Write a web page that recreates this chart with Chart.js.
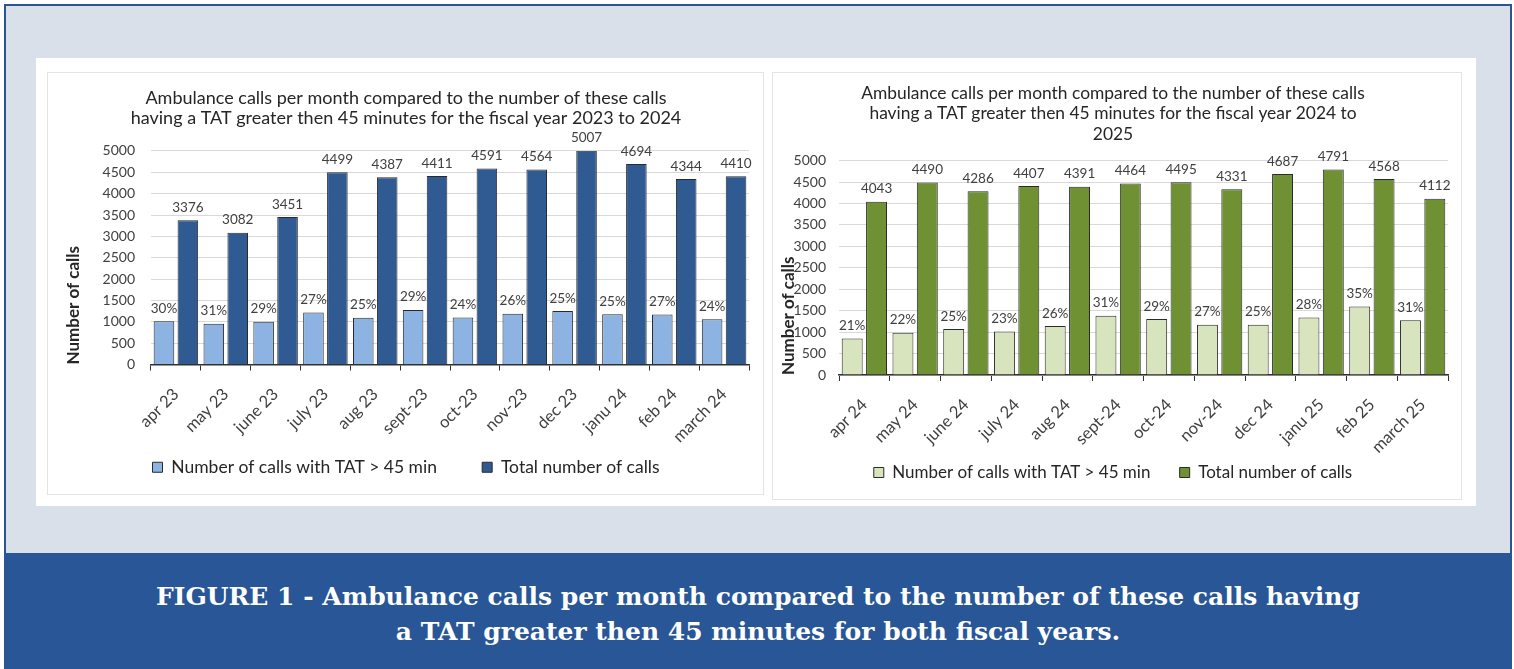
<!DOCTYPE html>
<html>
<head>
<meta charset="utf-8">
<title>Ambulance calls per month</title>
<script src="https://cdn.jsdelivr.net/npm/chart.js@4.4.1/dist/chart.umd.min.js"></script>
<style>
    body { margin: 0; background: #fff; }
    #page { position: relative; width: 1514px; height: 669px; overflow: hidden; background: #fff; }
    #frame { position: absolute; left: 4px; top: 4px; width: 1508px; height: 680px; border: 2px solid #2b5591; box-sizing: border-box; background: #dae0ea; }
    #panel { position: absolute; left: 36px; top: 58px; width: 1440px; height: 448px; background: #fff; }
    .box { position: absolute; border: 1px solid #e4e4e4; box-sizing: border-box; background: #fff; }
    .box canvas { position: absolute; left: 0; top: 0; }
    #band { position: absolute; left: 4px; top: 553px; width: 1508px; height: 116px; background: #285696; }
    #caption { margin: 0; padding-top: 26px; color: #fff; text-align: center; font: bold 25px/35px "DejaVu Serif", serif; }
</style>
</head>
<body>
<div id="page">
    <div id="frame"></div>
    <div id="panel"></div>
    <div class="box" style="left:47px; top:72px; width:717px; height:423px;">
        <canvas id="chart2324" width="717" height="423"></canvas>
    </div>
    <div class="box" style="left:772px; top:72px; width:690px; height:428px;">
        <canvas id="chart2425" width="690" height="428"></canvas>
    </div>
    <div id="band">
        <p id="caption">FIGURE 1 - Ambulance calls per month compared to the number of these calls having<br>a TAT greater then 45 minutes for both fiscal years.</p>
    </div>
</div>
<script>
// fiscal year 2023 - 2024
const months2324 = ['apr 23', 'may 23', 'june 23', 'july 23', 'aug 23', 'sept-23', 'oct-23', 'nov-23', 'dec 23', 'janu 24', 'feb 24', 'march 24'];
const total2324 = [3376, 3082, 3451, 4499, 4387, 4411, 4591, 4564, 5007, 4694, 4344, 4410];
const tat2324 = [1013, 955, 1001, 1215, 1097, 1279, 1102, 1187, 1252, 1174, 1173, 1058];
const pct2324 = [30, 31, 29, 27, 25, 29, 24, 26, 25, 25, 27, 24];

// fiscal year 2024 - 2025
const months2425 = ['apr 24', 'may 24', 'june 24', 'july 24', 'aug 24', 'sept-24', 'oct-24', 'nov-24', 'dec 24', 'janu 25', 'feb 25', 'march 25'];
const total2425 = [4043, 4490, 4286, 4407, 4391, 4464, 4495, 4331, 4687, 4791, 4568, 4112];
const tat2425 = [849, 988, 1072, 1014, 1142, 1384, 1304, 1169, 1172, 1341, 1599, 1275];
const pct2425 = [21, 22, 25, 23, 26, 31, 29, 27, 25, 28, 35, 31];

const seriesNames = ['Number of calls with TAT > 45 min', 'Total number of calls'];
const yMax = 5000;
const yStep = 500;

const textColor = '#404040';
const darkText = '#262626';

// value labels above each bar (percent on the small bars, totals on the big ones)
function makeLabels(pct) {
    return {
        id: 'barLabels',
        afterDatasetsDraw(chart) {
            const ctx = chart.ctx;
            ctx.save();
            ctx.font = '13.5px Lato';
            ctx.fillStyle = textColor;
            ctx.textAlign = 'center';
            ctx.textBaseline = 'bottom';
            chart.getDatasetMeta(0).data.forEach((bar, i) => {
                ctx.fillText(pct[i] + '%', bar.x, bar.y - 6);
            });
            const totals = chart.data.datasets[1].data;
            chart.getDatasetMeta(1).data.forEach((bar, i) => {
                ctx.fillText(totals[i], bar.x, bar.y - 6);
            });
            ctx.restore();
        }
    };
}

function drawChart(id, cfg) {
    return new Chart(document.getElementById(id), {
        type: 'bar',
        data: {
            labels: cfg.labels,
            datasets: [{
                label: seriesNames[0],
                data: cfg.tat,
                backgroundColor: cfg.light,
                borderColor: '#2a2a2a',
                borderWidth: 1,
                categoryPercentage: 0.96,
                barPercentage: 0.86
            }, {
                label: seriesNames[1],
                data: cfg.total,
                backgroundColor: cfg.dark,
                borderColor: '#2a2a2a',
                borderWidth: 1,
                categoryPercentage: 0.96,
                barPercentage: 0.86
            }]
        },
        options: {
            responsive: false,
            animation: false,
            layout: { padding: cfg.pad },
            plugins: {
                title: {
                    display: true,
                    text: cfg.title,
                    color: darkText,
                    font: { family: 'Lato', size: cfg.titleSize, weight: 'normal', lineHeight: cfg.titleLine },
                    padding: cfg.titlePad
                },
                legend: {
                    position: 'bottom',
                    labels: {
                        boxWidth: 10,
                        boxHeight: 10,
                        padding: 8,
                        color: darkText,
                        font: { family: 'Lato', size: cfg.legendSize },
                        // wider gap after the first entry, like the original
                        generateLabels: (chart) => {
                            const items = Chart.defaults.plugins.legend.labels.generateLabels(chart);
                            items[0].text += cfg.legendGap;
                            return items;
                        }
                    }
                },
                tooltip: { enabled: false }
            },
            scales: {
                x: {
                    grid: { offset: true, drawOnChartArea: false, drawTicks: true, tickLength: 6, color: '#303030' },
                    border: { display: true, color: '#303030', width: 1.5 },
                    ticks: { minRotation: 45, maxRotation: 45, padding: 14, color: textColor, font: { family: 'Lato', size: 16.5 } },
                    afterFit: (s) => { s.height = cfg.xHeight; }
                },
                y: {
                    min: 0,
                    max: yMax,
                    ticks: { stepSize: yStep, padding: cfg.yPad, color: textColor, font: { family: 'Lato', size: 14 }, callback: (v) => String(v) },
                    grid: { color: '#d9d9d9', drawTicks: false },
                    border: { display: false },
                    title: {
                        display: true,
                        text: 'Number of calls',
                        align: 'start',
                        padding: 0,
                        color: darkText,
                        font: { family: 'Lato', size: 17, weight: 'bold' }
                    },
                    afterFit: (s) => { s.width = cfg.yWidth; }
                }
            }
        },
        plugins: [makeLabels(cfg.pct)]
    });
}

drawChart('chart2324', {
    labels: months2324,
    tat: tat2324,
    total: total2324,
    pct: pct2324,
    light: '#8db3e2',
    dark: '#305b92',
    title: ['Ambulance calls per month compared to the number of these calls',
            'having a TAT greater then 45 minutes for the fiscal year 2023 to 2024'],
    titleSize: 18,
    titleLine: 1.11,
    titlePad: { top: 15, bottom: 23 },
    legendGap: '\u2003\u2003\u2002\u2009',
    legendSize: 17.5,
    pad: { left: 15, right: 16, top: 0, bottom: 10 },
    yWidth: 88,
    yPad: 16,
    xHeight: 86
});

drawChart('chart2425', {
    labels: months2425,
    tat: tat2425,
    total: total2425,
    pct: pct2425,
    light: '#d7e4bd',
    dark: '#6f9134',
    title: ['Ambulance calls per month compared to the number of these calls',
            'having a TAT greater then 45 minutes for the fiscal year 2024 to',
            '2025'],
    titleSize: 17.4,
    titleLine: 1.18,
    titlePad: { top: 10, bottom: 16 },
    legendGap: '\u2003\u2002',
    legendSize: 17,
    pad: { left: 5, right: 15, top: 0, bottom: 10 },
    yWidth: 61,
    yPad: 13,
    xHeight: 81
});
</script>
</body>
</html>
